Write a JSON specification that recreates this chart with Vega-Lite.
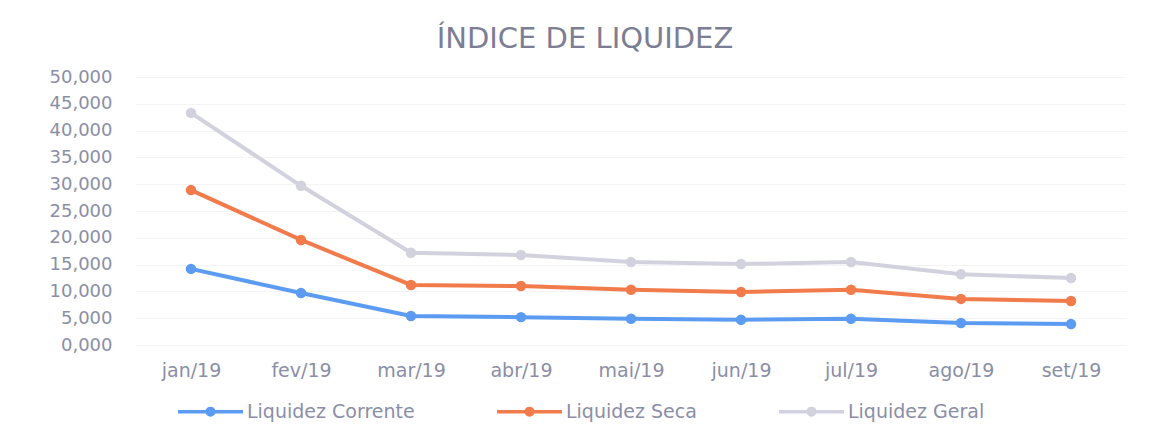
{
  "$schema": "https://vega.github.io/schema/vega-lite/v6.json",
  "autosize": {"type": "none"},
  "padding": {"left": 136, "top": 77, "right": 26, "bottom": 94},
  "width": 990,
  "height": 268,
  "background": "white",
  "title": {
    "text": "ÍNDICE DE LIQUIDEZ",
    "anchor": "middle",
    "dx": -46,
    "offset": 14,
    "font": "DejaVu Sans",
    "fontSize": 29,
    "fontWeight": "normal",
    "color": "#7c7e94"
  },
  "data": {
    "values": [
      {"mes": "jan/19", "serie": "Liquidez Corrente", "valor": 14.2},
      {"mes": "fev/19", "serie": "Liquidez Corrente", "valor": 9.7},
      {"mes": "mar/19", "serie": "Liquidez Corrente", "valor": 5.4},
      {"mes": "abr/19", "serie": "Liquidez Corrente", "valor": 5.2},
      {"mes": "mai/19", "serie": "Liquidez Corrente", "valor": 4.9},
      {"mes": "jun/19", "serie": "Liquidez Corrente", "valor": 4.7},
      {"mes": "jul/19", "serie": "Liquidez Corrente", "valor": 4.9},
      {"mes": "ago/19", "serie": "Liquidez Corrente", "valor": 4.1},
      {"mes": "set/19", "serie": "Liquidez Corrente", "valor": 3.9},
      {"mes": "jan/19", "serie": "Liquidez Seca", "valor": 28.9},
      {"mes": "fev/19", "serie": "Liquidez Seca", "valor": 19.6},
      {"mes": "mar/19", "serie": "Liquidez Seca", "valor": 11.2},
      {"mes": "abr/19", "serie": "Liquidez Seca", "valor": 11.0},
      {"mes": "mai/19", "serie": "Liquidez Seca", "valor": 10.3},
      {"mes": "jun/19", "serie": "Liquidez Seca", "valor": 9.9},
      {"mes": "jul/19", "serie": "Liquidez Seca", "valor": 10.3},
      {"mes": "ago/19", "serie": "Liquidez Seca", "valor": 8.6},
      {"mes": "set/19", "serie": "Liquidez Seca", "valor": 8.2},
      {"mes": "jan/19", "serie": "Liquidez Geral", "valor": 43.3},
      {"mes": "fev/19", "serie": "Liquidez Geral", "valor": 29.7},
      {"mes": "mar/19", "serie": "Liquidez Geral", "valor": 17.2},
      {"mes": "abr/19", "serie": "Liquidez Geral", "valor": 16.8},
      {"mes": "mai/19", "serie": "Liquidez Geral", "valor": 15.5},
      {"mes": "jun/19", "serie": "Liquidez Geral", "valor": 15.1},
      {"mes": "jul/19", "serie": "Liquidez Geral", "valor": 15.5},
      {"mes": "ago/19", "serie": "Liquidez Geral", "valor": 13.2},
      {"mes": "set/19", "serie": "Liquidez Geral", "valor": 12.5}
    ]
  },
  "mark": {"type": "line", "strokeWidth": 4, "point": {"size": 110, "filled": true, "opacity": 1}},
  "encoding": {
    "x": {
      "field": "mes",
      "type": "ordinal",
      "sort": ["jan/19", "fev/19", "mar/19", "abr/19", "mai/19", "jun/19", "jul/19", "ago/19", "set/19"],
      "scale": {"type": "point", "padding": 0.5},
      "axis": {
        "title": null,
        "labelAngle": 0,
        "domain": false,
        "ticks": false,
        "grid": false,
        "labelPadding": 16,
        "labelFont": "DejaVu Sans",
        "labelFontSize": 19,
        "labelColor": "#8a8ea6"
      }
    },
    "y": {
      "field": "valor",
      "type": "quantitative",
      "scale": {"domain": [0, 50], "nice": false},
      "axis": {
        "title": null,
        "values": [0, 5, 10, 15, 20, 25, 30, 35, 40, 45, 50],
        "labelExpr": "replace(format(datum.value, '.3f'), '.', ',')",
        "domain": false,
        "ticks": false,
        "grid": true,
        "gridColor": "#f4f4f6",
        "gridWidth": 1,
        "labelPadding": 24,
        "labelFont": "DejaVu Sans",
        "labelFontSize": 18,
        "labelColor": "#8a8ea6"
      }
    },
    "color": {
      "field": "serie",
      "type": "nominal",
      "scale": {
        "domain": ["Liquidez Corrente", "Liquidez Seca", "Liquidez Geral"],
        "range": ["#5b9cf2", "#f27b4b", "#d2d2de"]
      },
      "legend": {
        "title": null,
        "orient": "none",
        "direction": "horizontal",
        "legendX": 40,
        "legendY": 300,
        "symbolType": "M-1,0H1M-0.1,0A0.1,0.1 0 1,0 0.1,0A0.1,0.1 0 1,0 -0.1,0",
        "symbolSize": 4225,
        "symbolStrokeWidth": 3.5,
        "labelFont": "DejaVu Sans",
        "labelFontSize": 19,
        "labelLimit": 400,
        "labelColor": "#8a8ea6",
        "labelOffset": 2,
        "columnPadding": 75
      }
    }
  },
  "config": {
    "view": {"stroke": null}
  }
}
